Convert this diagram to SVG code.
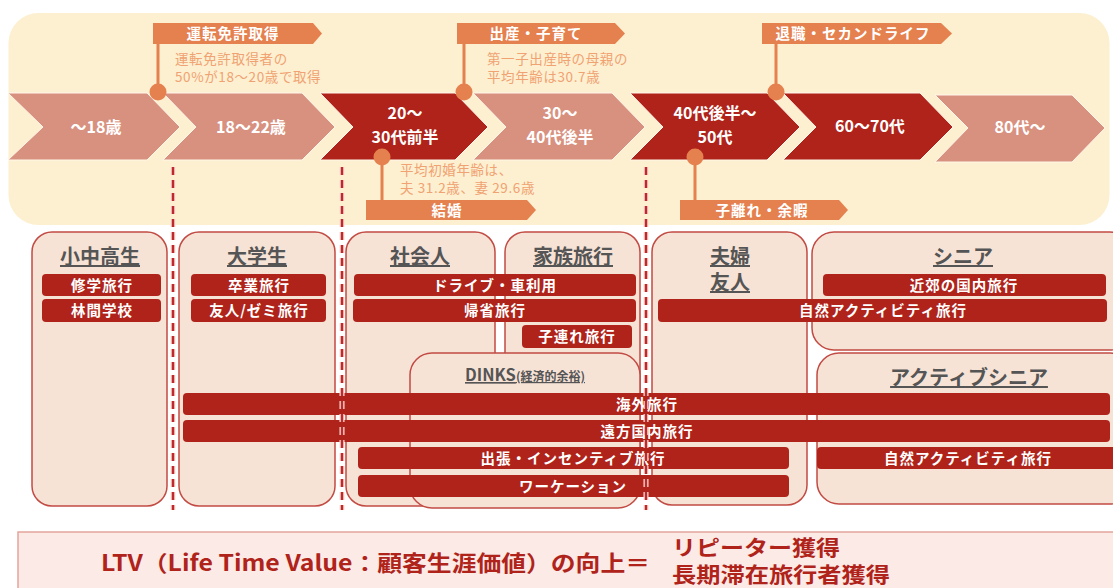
<svg xmlns="http://www.w3.org/2000/svg" width="1113" height="588" viewBox="0 0 1113 588">
<defs>
<style>
text{font-family:"Noto Sans CJK JP","Noto Sans",sans-serif}
.chevL{fill:#D8917F;stroke:#FFF6EA;stroke-width:1}
.chevD{fill:#B0231A;stroke:#FFF6EA;stroke-width:1}
.ct{font-weight:700;font-size:16px;fill:#fff;text-anchor:middle}
.tag{fill:#E5804F}
.tagt{font-weight:700;font-size:14.5px;fill:#fff;text-anchor:middle;letter-spacing:1px}
.note{font-size:13.5px;fill:#F0A272;letter-spacing:0.6px}
.stem{stroke:#E5804F;stroke-width:3}
.dot{fill:#E5804F}
.box{fill:#F7E3D6;stroke:#C24B44;stroke-width:1.5}
.ttl{font-weight:700;font-size:20px;fill:#555;text-anchor:middle;text-decoration:underline}
.pill{fill:#B0231A}
.pt{font-weight:700;font-size:14.5px;fill:#fff;text-anchor:middle;letter-spacing:1px}
.dash{stroke:#C0282D;stroke-width:2.5;stroke-dasharray:8 5;fill:none}
.halo{stroke:#F7E3D6;stroke-width:5;stroke-dasharray:8 5;fill:none}
.ltv{font-weight:700;fill:#B0231A}
</style>
</defs>

<rect id="band" x="8.5" y="13" width="1101" height="212" rx="30" fill="#FDF0D1"/>

<g id="timeline">
<g id="age1"><polygon class="chevL" points="8,93 147,93 180,127 147,160 8,160 43,127"/><text class="ct" x="96" y="133">〜18歳</text></g>
<g id="age2"><polygon class="chevL" points="163,93 302,93 335,127 302,160 163,160 196,127"/><text class="ct" x="251" y="133">18〜22歳</text></g>
<g id="age3"><polygon class="chevD" points="320,93 455,93 488,127 455,160 320,160 353,127"/><text class="ct" x="405" y="119">20〜</text><text class="ct" x="405" y="143">30代前半</text></g>
<g id="age4"><polygon class="chevL" points="473,93 612,93 645,127 612,160 473,160 506,127"/><text class="ct" x="560" y="119">30〜</text><text class="ct" x="560" y="143">40代後半</text></g>
<g id="age5"><polygon class="chevD" points="630,93 767,93 800,127 767,160 630,160 663,127"/><text class="ct" x="715" y="119">40代後半〜</text><text class="ct" x="715" y="143">50代</text></g>
<g id="age6"><polygon class="chevD" points="783,93 920,93 953,127 920,160 783,160 816,127"/><text class="ct" x="870" y="132">60〜70代</text></g>
<g id="age7"><polygon class="chevL" points="935,95 1072,95 1105,128 1072,162 935,162 968,128"/><text class="ct" x="1020" y="133">80代〜</text></g>
</g>

<g id="connectors">
<line class="stem" x1="158" y1="44" x2="158" y2="92"/>
<line class="stem" x1="464" y1="44" x2="464" y2="92"/>
<line class="stem" x1="776" y1="44" x2="776" y2="92"/>
<line class="stem" x1="382" y1="157" x2="382" y2="201"/>
<line class="stem" x1="695" y1="157" x2="695" y2="200"/>
</g>

<g id="ev-license">
<polygon class="tag" points="153,23 313,23 322,33.5 313,44 153,44"/>
<text class="tagt" x="233" y="39">運転免許取得</text>
<circle class="dot" cx="158" cy="92" r="8.5"/>
<text class="note" x="175" y="64">運転免許取得者の</text>
<text class="note" x="175" y="82">50%が18〜20歳で取得</text>
</g>
<g id="ev-birth">
<polygon class="tag" points="457,23 615,23 625,33.5 615,44 457,44"/>
<text class="tagt" x="536" y="39">出産・子育て</text>
<circle class="dot" cx="464" cy="92" r="8.5"/>
<text class="note" x="487" y="64">第一子出産時の母親の</text>
<text class="note" x="487" y="82">平均年齢は30.7歳</text>
</g>
<g id="ev-retire">
<polygon class="tag" points="762,23 941,23 952,33.5 941,44 762,44"/>
<text class="tagt" x="853" y="39">退職・セカンドライフ</text>
<circle class="dot" cx="776" cy="92" r="8.5"/>
</g>
<g id="ev-marriage">
<circle class="dot" cx="382" cy="157" r="8.5"/>
<text class="note" x="400" y="175">平均初婚年齢は、</text>
<text class="note" x="400" y="193">夫 31.2歳、妻 29.6歳</text>
<polygon class="tag" points="366,200 527,200 536,210 527,220 366,220"/>
<text class="tagt" x="447" y="215.5">結婚</text>
</g>
<g id="ev-empty">
<circle class="dot" cx="695" cy="157" r="8.5"/>
<polygon class="tag" points="680,200 839,200 848,210 839,220 680,220"/>
<text class="tagt" x="762" y="215.5">子離れ・余暇</text>
</g>

<g id="seg-school"><rect class="box" x="32" y="232" width="135" height="274" rx="20"/><text class="ttl" x="100" y="264">小中高生</text></g>
<g id="seg-univ"><rect class="box" x="179" y="232" width="156" height="274" rx="20"/><text class="ttl" x="257" y="264">大学生</text></g>
<g id="seg-worker"><rect class="box" x="346" y="232" width="149" height="274" rx="20"/><text class="ttl" x="420" y="264">社会人</text></g>
<g id="seg-family"><rect class="box" x="505" y="232" width="135" height="274" rx="20"/><text class="ttl" x="573" y="264">家族旅行</text></g>
<g id="seg-dinks"><rect class="box" x="410" y="353" width="230" height="155" rx="22"/><text x="525" y="381" text-anchor="middle" fill="#555" font-weight="700" text-decoration="underline"><tspan font-size="16.5">DINKS</tspan><tspan font-size="12">(経済的余裕)</tspan></text></g>
<g id="seg-couple"><rect class="box" x="652" y="232" width="155" height="273" rx="20"/><text class="ttl" x="730" y="264">夫婦</text><text class="ttl" x="730" y="290">友人</text></g>
<g id="seg-senior"><rect class="box" x="812" y="232" width="320" height="118" rx="22"/><text class="ttl" x="963" y="264">シニア</text></g>
<g id="seg-active"><rect class="box" x="817" y="353" width="315" height="151" rx="22"/><text class="ttl" x="969" y="385">アクティブシニア</text></g>

<g id="trips">
<rect class="pill" x="42" y="274" width="119" height="22" rx="4"/><text class="pt" x="102" y="290.5">修学旅行</text>
<rect class="pill" x="42" y="299" width="119" height="23" rx="4"/><text class="pt" x="102" y="315.5">林間学校</text>
<rect class="pill" x="191" y="274" width="135" height="22" rx="4"/><text class="pt" x="259" y="290.5">卒業旅行</text>
<rect class="pill" x="191" y="299" width="135" height="23" rx="4"/><text class="pt" x="259" y="315.5">友人/ゼミ旅行</text>
<rect class="pill" x="354" y="274" width="282" height="22" rx="4"/><text class="pt" x="495" y="290.5">ドライブ・車利用</text>
<rect class="pill" x="353" y="299" width="283" height="23" rx="4"/><text class="pt" x="495" y="315.5">帰省旅行</text>
<rect class="pill" x="522" y="325" width="110" height="23" rx="4"/><text class="pt" x="577" y="341.5">子連れ旅行</text>
<rect class="pill" x="823" y="274" width="283" height="22" rx="4"/><text class="pt" x="964" y="290.5">近郊の国内旅行</text>
<rect class="pill" x="658" y="299" width="449" height="23" rx="4"/><text class="pt" x="883" y="315.5">自然アクティビティ旅行</text>
<rect class="pill" x="183" y="393" width="927" height="22" rx="4"/><text class="pt" x="647" y="409.5">海外旅行</text>
<rect class="pill" x="183" y="420" width="927" height="22" rx="4"/><text class="pt" x="647" y="436.5">遠方国内旅行</text>
<rect class="pill" x="358" y="447" width="431" height="22" rx="4"/><text class="pt" x="573" y="463.5">出張・インセンティブ旅行</text>
<rect class="pill" x="358" y="475" width="431" height="22" rx="4"/><text class="pt" x="573" y="491.5">ワーケーション</text>
<rect class="pill" x="817" y="447" width="310" height="22" rx="4"/><text class="pt" x="968" y="463.5">自然アクティビティ旅行</text>
</g>

<g id="dividers">
<line class="halo" x1="173" y1="167" x2="173" y2="510"/>
<line class="halo" x1="342" y1="167" x2="342" y2="510"/>
<line class="halo" x1="646" y1="167" x2="646" y2="510"/>
<line class="dash" x1="173" y1="167" x2="173" y2="510"/>
<line class="dash" x1="342" y1="167" x2="342" y2="510"/>
<line class="dash" x1="646" y1="167" x2="646" y2="510"/>
</g>

<g id="ltv">
<rect x="18" y="532" width="1200" height="100" fill="#FBEAE6" stroke="#E3A59C" stroke-width="1.5"/>
<text class="ltv" x="101" y="571" font-size="22" textLength="549" lengthAdjust="spacingAndGlyphs">LTV（Life Time Value：顧客生涯価値）の向上＝</text>
<text class="ltv" x="672" y="555" font-size="21" textLength="168" lengthAdjust="spacingAndGlyphs">リピーター獲得</text>
<text class="ltv" x="672" y="582" font-size="21" textLength="218" lengthAdjust="spacingAndGlyphs">長期滞在旅行者獲得</text>
</g>
</svg>
